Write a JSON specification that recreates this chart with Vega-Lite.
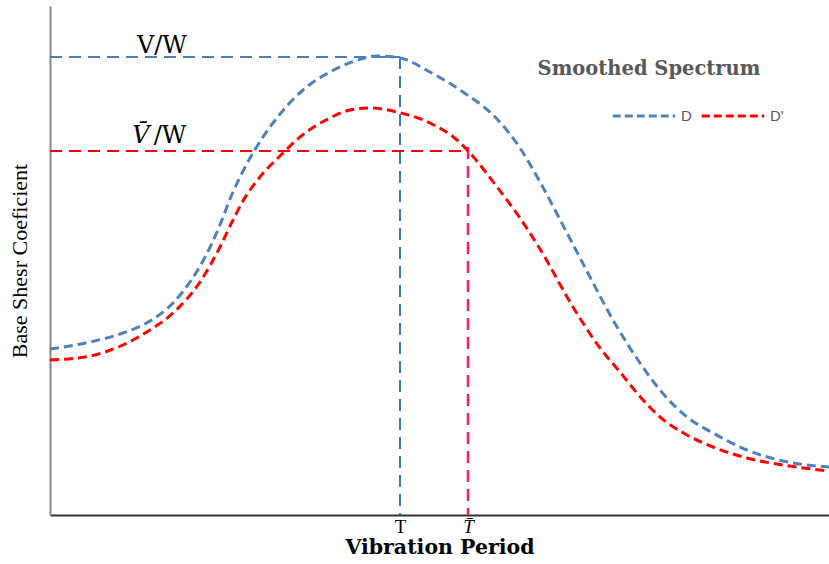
{
  "$schema": "https://vega.github.io/schema/vega-lite/v6.json",
  "width": 779,
  "height": 509,
  "autosize": {"type": "none"},
  "padding": {"left": 50, "top": 6, "right": 0, "bottom": 49},
  "background": "white",
  "config": {"view": {"stroke": null}, "font": "Liberation Serif"},
  "datasets": {
    "curves": [
      {"series": "D", "x": 50, "y": 166},
      {"series": "D", "x": 90, "y": 173},
      {"series": "D", "x": 123, "y": 182},
      {"series": "D", "x": 150, "y": 194},
      {"series": "D", "x": 173, "y": 212},
      {"series": "D", "x": 190, "y": 233},
      {"series": "D", "x": 203, "y": 254},
      {"series": "D", "x": 217, "y": 283},
      {"series": "D", "x": 233, "y": 323},
      {"series": "D", "x": 253, "y": 362},
      {"series": "D", "x": 273, "y": 392},
      {"series": "D", "x": 303, "y": 425},
      {"series": "D", "x": 330, "y": 443},
      {"series": "D", "x": 355, "y": 454},
      {"series": "D", "x": 377, "y": 459},
      {"series": "D", "x": 400, "y": 457},
      {"series": "D", "x": 430, "y": 443},
      {"series": "D", "x": 463, "y": 423},
      {"series": "D", "x": 497, "y": 396},
      {"series": "D", "x": 520, "y": 367},
      {"series": "D", "x": 540, "y": 333},
      {"series": "D", "x": 567, "y": 282},
      {"series": "D", "x": 590, "y": 238},
      {"series": "D", "x": 613, "y": 195},
      {"series": "D", "x": 640, "y": 152},
      {"series": "D", "x": 660, "y": 125},
      {"series": "D", "x": 687, "y": 98},
      {"series": "D", "x": 713, "y": 82},
      {"series": "D", "x": 747, "y": 65},
      {"series": "D", "x": 783, "y": 54},
      {"series": "D", "x": 829, "y": 48},
      {"series": "D'", "x": 50, "y": 155},
      {"series": "D'", "x": 90, "y": 159},
      {"series": "D'", "x": 123, "y": 170},
      {"series": "D'", "x": 150, "y": 185},
      {"series": "D'", "x": 173, "y": 202},
      {"series": "D'", "x": 200, "y": 233},
      {"series": "D'", "x": 220, "y": 268},
      {"series": "D'", "x": 233, "y": 295},
      {"series": "D'", "x": 243, "y": 314},
      {"series": "D'", "x": 260, "y": 338},
      {"series": "D'", "x": 283, "y": 362},
      {"series": "D'", "x": 300, "y": 378},
      {"series": "D'", "x": 330, "y": 397},
      {"series": "D'", "x": 350, "y": 405},
      {"series": "D'", "x": 370, "y": 407},
      {"series": "D'", "x": 397, "y": 403},
      {"series": "D'", "x": 430, "y": 392},
      {"series": "D'", "x": 457, "y": 375},
      {"series": "D'", "x": 470, "y": 362},
      {"series": "D'", "x": 497, "y": 328},
      {"series": "D'", "x": 520, "y": 297},
      {"series": "D'", "x": 540, "y": 266},
      {"series": "D'", "x": 573, "y": 208},
      {"series": "D'", "x": 600, "y": 167},
      {"series": "D'", "x": 620, "y": 143},
      {"series": "D'", "x": 637, "y": 122},
      {"series": "D'", "x": 660, "y": 98},
      {"series": "D'", "x": 687, "y": 80},
      {"series": "D'", "x": 713, "y": 68},
      {"series": "D'", "x": 747, "y": 57},
      {"series": "D'", "x": 783, "y": 50},
      {"series": "D'", "x": 829, "y": 44}
    ],
    "refs": [
      {"ref": "vw_h", "x": 50, "x2": 400, "y": 458, "y2": 458},
      {"ref": "vw_v", "x": 400, "x2": 400, "y": 458, "y2": 0},
      {"ref": "vbar_h", "x": 50, "x2": 468, "y": 364, "y2": 364},
      {"ref": "tbar_v", "x": 468, "x2": 468, "y": 368, "y2": 0}
    ],
    "labels": [
      {"kind": "plain", "label": "V/W", "x": 162, "y": 462},
      {"kind": "plain", "label": "/W", "x": 170, "y": 372},
      {"kind": "italic", "label": "V\u0304", "x": 141, "y": 372},
      {"kind": "title", "label": "Smoothed Spectrum", "x": 649, "y": 440}
    ]
  },
  "encoding": {
    "x": {
      "field": "x",
      "type": "quantitative",
      "scale": {"domain": [50, 829], "nice": false, "zero": false},
      "axis": {
        "values": [400, 468],
        "labelExpr": "datum.value < 430 ? 'T' : 'T\u0304'",
        "labelFontStyle": {"condition": {"test": "datum.value > 430", "value": "italic"}, "value": "normal"},
        "ticks": false,
        "grid": false,
        "domainColor": "#333333",
        "domainWidth": 2,
        "labelFont": "Liberation Serif",
        "labelFontSize": 19,
        "labelColor": "black",
        "labelPadding": 2,
        "title": "Vibration Period",
        "titleFont": "DejaVu Serif",
        "titleFontSize": 20.5,
        "titleFontWeight": "bold",
        "titleColor": "black",
        "titlePadding": 1
      }
    },
    "y": {
      "field": "y",
      "type": "quantitative",
      "scale": {"domain": [0, 509], "nice": false, "zero": false},
      "axis": {
        "labels": false,
        "ticks": false,
        "grid": false,
        "domainColor": "#888888",
        "domainWidth": 2,
        "title": "Base Shesr Coeficient",
        "titleFont": "Liberation Serif",
        "titleFontSize": 22,
        "titleFontWeight": "normal",
        "titleColor": "black",
        "titlePadding": 19
      }
    }
  },
  "layer": [
    {
      "data": {"name": "refs"},
      "transform": [{"filter": "datum.ref == 'vw_h'"}],
      "mark": {"type": "rule", "color": "#4a7ebb", "strokeWidth": 2, "strokeDash": [12, 7]},
      "encoding": {"x2": {"field": "x2"}, "y2": {"field": "y2"}}
    },
    {
      "data": {"name": "refs"},
      "transform": [{"filter": "datum.ref == 'vw_v'"}],
      "mark": {"type": "rule", "color": "#3f78c0", "strokeWidth": 2, "strokeDash": [12, 7]},
      "encoding": {"x2": {"field": "x2"}, "y2": {"field": "y2"}}
    },
    {
      "data": {"name": "refs"},
      "transform": [{"filter": "datum.ref == 'vbar_h'"}],
      "mark": {"type": "rule", "color": "#ff0000", "strokeWidth": 2, "strokeDash": [12, 7]},
      "encoding": {"x2": {"field": "x2"}, "y2": {"field": "y2"}}
    },
    {
      "data": {"name": "refs"},
      "transform": [{"filter": "datum.ref == 'tbar_v'"}],
      "mark": {"type": "rule", "color": "#ff1a6a", "strokeWidth": 2.5, "strokeDash": [12, 7]},
      "encoding": {"x2": {"field": "x2"}, "y2": {"field": "y2"}}
    },
    {
      "data": {"name": "curves"},
      "mark": {"type": "line", "interpolate": "monotone", "strokeWidth": 3, "strokeDash": [9, 5]},
      "encoding": {
        "color": {
          "field": "series",
          "type": "nominal",
          "scale": {"domain": ["D", "D'"], "range": ["#4f81bd", "#ff0000"]},
          "legend": {
            "orient": "none",
            "legendX": 561,
            "legendY": 77,
            "direction": "horizontal",
            "title": null,
            "symbolType": "stroke",
            "symbolSize": 3900,
            "symbolStrokeWidth": 3,
            "symbolDash": [8, 4],
            "labelFont": "Liberation Sans",
            "labelFontSize": 15,
            "labelColor": "#595959",
            "labelOffset": 4,
            "columnPadding": 3,
            "padding": 0
          }
        }
      }
    },
    {
      "data": {"name": "labels"},
      "transform": [{"filter": "datum.kind == 'plain'"}],
      "mark": {"type": "text", "font": "DejaVu Serif", "fontSize": 24, "color": "black", "align": "center", "baseline": "alphabetic"},
      "encoding": {"text": {"field": "label"}}
    },
    {
      "data": {"name": "labels"},
      "transform": [{"filter": "datum.kind == 'italic'"}],
      "mark": {"type": "text", "font": "DejaVu Serif", "fontSize": 24, "fontStyle": "italic", "color": "black", "align": "center", "baseline": "alphabetic"},
      "encoding": {"text": {"field": "label"}}
    },
    {
      "data": {"name": "labels"},
      "transform": [{"filter": "datum.kind == 'title'"}],
      "mark": {"type": "text", "font": "DejaVu Serif", "fontSize": 19.5, "fontWeight": "bold", "color": "#595959", "align": "center", "baseline": "alphabetic"},
      "encoding": {"text": {"field": "label"}}
    }
  ]
}
